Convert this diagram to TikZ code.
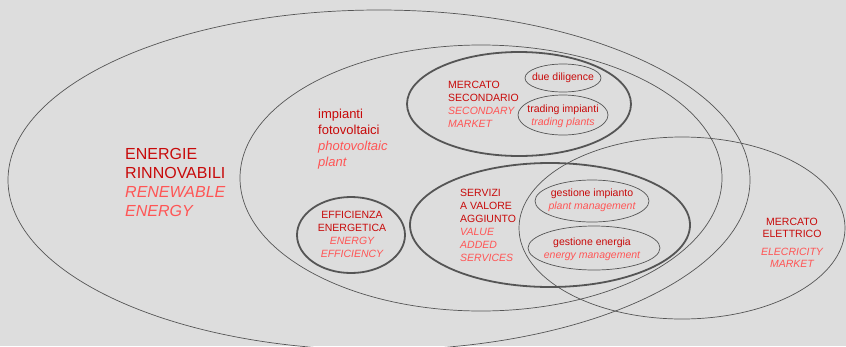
\documentclass[tikz,border=0pt]{standalone}
\usepackage{fontspec}
\setmainfont{Liberation Sans}
\definecolor{rosso}{RGB}{200,10,10}
\definecolor{rosa}{RGB}{255,85,85}
\definecolor{sfondo}{RGB}{221,221,221}
\definecolor{bordo}{RGB}{85,85,85}
\newcommand{\ita}[1]{\textcolor{rosa}{\itshape #1}}
\tikzset{
  anello/.style={draw=bordo, line width=0.7pt},
  anello spesso/.style={draw=bordo, line width=1.8pt},
  etichetta/.style={inner sep=0pt, text=rosso, align=left,
    font=\fontsize{10.5}{13}\selectfont}
}
\begin{document}
\begin{tikzpicture}[x=1pt,y=-1pt]
\fill[sfondo] (0,0) rectangle (846,346);
\useasboundingbox (0,0) rectangle (846,346);
\clip (0,0) rectangle (846,346);
% insiemi
\foreach \x/\y/\rx/\ry in {379/180/371/170, 481/178/241/133,
  682/228/163/91, 563/78/38/14, 563/115/45/20,
  592/201/57/21, 594/248/66/22}
  \draw[anello] (\x,\y) ellipse [x radius=\rx pt, y radius=\ry pt];
\foreach \x/\y/\rx/\ry in {519/104/112/52, 550/225/140/62, 351/235/54/38}
  \draw[anello spesso] (\x,\y) ellipse [x radius=\rx pt, y radius=\ry pt];
% etichette
\node[etichetta, font=\fontsize{16}{19}\selectfont, anchor=north west]
  (rinnovabili) at (125,148) {ENERGIE\\RINNOVABILI\\\ita{RENEWABLE}\\\ita{ENERGY}};
\node[etichetta, font=\fontsize{13}{16}\selectfont, anchor=north west]
  (fotovoltaico) at (318,109) {impianti\\fotovoltaici\\\ita{photovoltaic}\\\ita{plant}};
\node[etichetta, anchor=north west] (secondario) at (448,81)
  {MERCATO\\SECONDARIO\\\ita{SECONDARY}\\\ita{MARKET}};
\node[etichetta] (diligence) at (563,78) {due diligence};
\node[etichetta, align=center] (trading) at (563,116)
  {trading impianti\\\ita{trading plants}};
\node[etichetta, align=center, anchor=north] (efficienza) at (352,211)
  {EFFICIENZA\\ENERGETICA\\\ita{ENERGY}\\\ita{EFFICIENCY}};
\node[etichetta, anchor=north west] (servizi) at (460,189)
  {SERVIZI\\A VALORE\\AGGIUNTO\\\ita{VALUE}\\\ita{ADDED}\\\ita{SERVICES}};
\node[etichetta, align=center] (impianto) at (592,200)
  {gestione impianto\\\ita{plant management}};
\node[etichetta, align=center] (energia) at (592,249)
  {gestione energia\\\ita{energy management}};
\node[etichetta, align=center, anchor=north, font=\fontsize{10.5}{12}\selectfont]
  (elettrico) at (792,218) {MERCATO\\ELETTRICO\\[6pt]\ita{ELECRICITY}\\\ita{MARKET}};
\end{tikzpicture}
\end{document}
